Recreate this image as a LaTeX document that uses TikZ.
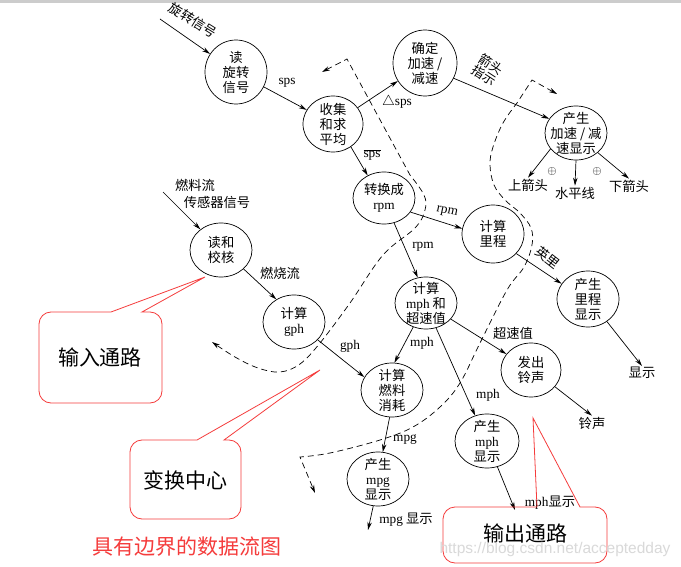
\documentclass[tikz,border=0pt]{standalone}
\usepackage{fontspec}
\setmainfont{Noto Sans CJK SC}
\newfontfamily\lat{Liberation Serif}
\newfontfamily\wm{Liberation Sans}
\usetikzlibrary{shapes.geometric,arrows.meta}
\definecolor{callred}{RGB}{245,60,60}
\begin{document}
\begin{tikzpicture}[x=1pt,y=-1pt,
  proc/.style={ellipse,draw,line width=0.7pt,inner sep=0pt,minimum width=62pt,minimum height=54pt},
  pt/.style={align=center,inner sep=0pt,font=\fontsize{13.3}{15}\selectfont},
  lbl/.style={inner sep=1pt,align=center,font=\fontsize{13.3}{14}\selectfont},
  flow/.style={draw,line width=0.7pt,-{Stealth[length=8pt,width=4.5pt]}},
  bound/.style={draw,line width=0.7pt,dash pattern=on 6pt off 4pt,{Stealth[length=8pt,width=4.5pt]}-{Stealth[length=8pt,width=4.5pt]}},
  callout/.style={draw=callred,line width=0.8pt},
  calltext/.style={inner sep=0pt,font=\fontsize{21}{24}\selectfont},
  plus/.style={inner sep=0pt,font=\fontsize{12}{12}\selectfont}
]
\useasboundingbox (0,0) rectangle (681,567);
\fill[white] (0,0) rectangle (681,567);
\fill[gray!40] (0,0) rectangle (681,3);

% processes
\node[proc,minimum height=64pt,label={[pt]center:{读\\旋转\\信号}}] (read) at (236,72) {};
\node[proc,minimum width=60pt,minimum height=56pt,label={[pt]center:{收集\\和求\\平均}}] (collect) at (333,124) {};
\node[proc,minimum width=64pt,minimum height=66pt,label={[pt]center:{确定\\加速 /\\减速}}] (determine) at (425,63) {};
\node[proc,label={[pt]center:{产生\\加速 / 减\\速显示}}] (accel) at (576,133) {};
\node[proc,minimum height=52pt,label={[pt]center:{转换成\\{\lat rpm}}}] (convert) at (384,198) {};
\node[proc,label={[pt]center:{读和\\校核}}] (readcheck) at (221,250) {};
\node[proc,label={[pt]center:{计算\\{\lat gph}}}] (gph) at (294,322) {};
\node[proc,minimum height=58pt,label={[pt]center:{计算\\里程}}] (mileage) at (493,234) {};
\node[proc,minimum height=56pt,label={[pt]center:{产生\\里程\\显示}}] (mdisp) at (588,299) {};
\node[proc,minimum height=52pt,label={[pt]center:{计算\\{\lat mph} 和\\超速值}}] (mph) at (426,303) {};
\node[proc,minimum width=60pt,label={[pt]center:{发出\\铃声}}] (ring) at (531,370) {};
\node[proc,label={[pt]center:{计算\\燃料\\消耗}}] (fuel) at (392,390) {};
\node[proc,minimum width=64pt,label={[pt]center:{产生\\{\lat mph}\\显示}}] (mphdisp) at (487,441) {};
\node[proc,label={[pt]center:{产生\\{\lat mpg}\\显示}}] (mpgdisp) at (378,479) {};

% sink / source labels
\coordinate (rotin) at (160,19);
\coordinate (fuelin) at (163,192);
\coordinate (mpgout) at (368,530);
\coordinate (mphout) at (515,510);
\node[lbl] (l-up) at (528,185) {上箭头};
\node[lbl] (l-hl) at (575,193) {水平线};
\node[lbl] (l-down) at (629,186) {下箭头};
\node[lbl] (l-show) at (642,373) {显示};
\node[lbl] (l-bell) at (592,423) {铃声};
\node[lbl] (l-mpgout) at (406,520) {{\lat mpg} 显示};
\node[lbl] (l-mphout) at (550,503) {{\lat mph}显示};
\node[plus] (p1) at (552,172) {$\oplus$};
\node[plus] (p2) at (597,172) {$\oplus$};

% flow labels
\node[lbl,rotate=-32] (l-rot) at (193,20) {旋转信号};
\node[lbl] (l-sps) at (287,83) {\lat sps};
\node[lbl] (l-dsps) at (397,102) {\lat $\triangle$sps};
\node[lbl,rotate=-33,font=\fontsize{13}{13}\selectfont] (l-arrow) at (488,70) {箭头\\指示};
\node[lbl] (l-osps) at (372,155) {\lat $\overline{\hbox{sps}}$};
\node[lbl,rotate=-12] (l-rpm1) at (447,212) {\lat rpm};
\node[lbl] (l-rpm2) at (423,247) {\lat rpm};
\node[lbl,rotate=-38] (l-mile) at (548,258) {英里};
\node[lbl] (l-fuel1) at (195,185) {燃料流};
\node[lbl] (l-fuel2) at (217,202) {传感器信号};
\node[lbl] (l-burn) at (280,273) {燃烧流};
\node[lbl] (l-gph) at (350,346) {\lat gph};
\node[lbl] (l-mph1) at (422,343) {\lat mph};
\node[lbl] (l-mph2) at (488,395) {\lat mph};
\node[lbl] (l-over) at (513,333) {超速值};
\node[lbl] (l-mpg) at (405,440) {\lat mpg};

% flows
\draw[flow] (rotin) -- (read);
\draw[flow] (read) -- (collect);
\draw[flow] (collect) -- (determine);
\draw[flow] (determine.-28) -- (accel.152);
\draw[flow] (accel.-148) -- (l-up.north);
\draw[flow] (accel.south) -- (l-hl.north);
\draw[flow] (accel.-42) -- (l-down.north);
\draw[flow] (collect.-52) -- (convert.126);
\draw[flow] (convert.-28) -- (mileage.170);
\draw[flow] (convert.-68) -- (mph.108);
\draw[flow] (mileage.-40) -- (mdisp.150);
\draw[flow] (mdisp.-50) -- (l-show.north);
\draw[flow] (fuelin) -- (readcheck);
\draw[flow] (readcheck.-40) -- (gph.128);
\draw[flow] (gph.-37) -- (fuel.155);
\draw[flow] (mph.-118) -- (fuel.85);
\draw[flow] (mph.-68) -- (mphdisp.115);
\draw[flow] (mph.-33) -- (ring.147);
\draw[flow] (ring.-35) -- (l-bell.north);
\draw[flow] (fuel.-95) -- (mpgdisp.80);
\draw[flow] (mpgdisp.-100) -- (mpgout);
\draw[flow] (mphdisp.-68) -- (mphout);

% boundaries
\draw[bound] (322,72) -- (347,59) -- plot[smooth,tension=0.6] coordinates {(410,175) (424,195) (425,210) (415,228) (383,255) (350,303) (320,343) (300,364) (280,372) (258,368) (235,357) (212,342)};
\draw[bound] (557,94) -- (532,80) -- plot[smooth,tension=0.6] coordinates {(517,103) (503,123) (493,147) (490,165) (494,185) (505,200) (520,213) (531,228) (532,245) (524,267) (507,290) (480,343) (460,383) (440,407) (413,427) (380,440) (330,453) (300,457)} -- (315,493);

% callouts
\draw[callout,rounded corners=12pt] (111,312) [sharp corners] -- (205,277) -- (142,312) [rounded corners=12pt] -- (162,312) -- (162,403) -- (39,403) -- (39,312) -- (111,312);
\draw[callout,rounded corners=12pt] (197,440) [sharp corners] -- (320,370) -- (224,440) [rounded corners=12pt] -- (241,440) -- (241,519) -- (130,519) -- (130,440) -- (197,440);
\draw[callout,rounded corners=12pt] (537,507) [sharp corners] -- (533,418) -- (580,507) [rounded corners=12pt] -- (607,507) -- (607,563) -- (443,563) -- (443,507) -- (537,507);
\node[calltext] (t-in) at (100,357) {输入通路};
\node[calltext] (t-tr) at (185,480) {变换中心};
\node[calltext] (t-out) at (525,533) {输出通路};
\node[calltext,text=callred] (title) at (187,547) {具有边界的数据流图};
\node[inner sep=0pt,text=gray!30,font=\wm\fontsize{15.5}{17}\selectfont] (wmark) at (555,549) {https://blog.csdn.net/acceptedday};
\end{tikzpicture}
\end{document}
